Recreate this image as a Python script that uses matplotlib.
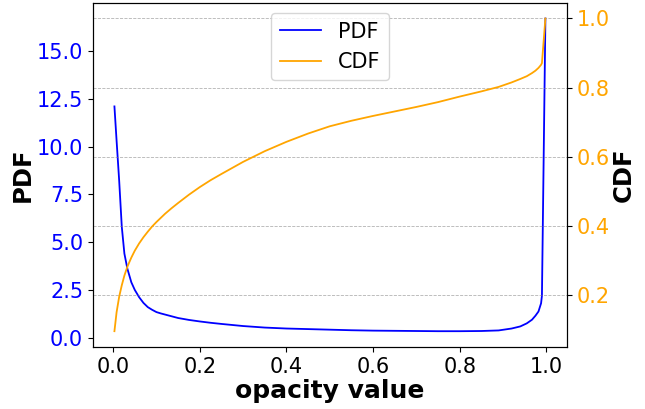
import matplotlib
matplotlib.use("Agg")
import matplotlib.pyplot as plt

x_vals = [0.003, 0.008, 0.014, 0.020, 0.026, 0.033, 0.042, 0.05, 0.06, 0.07,
          0.08, 0.09, 0.1, 0.11, 0.12, 0.135, 0.15, 0.175, 0.2, 0.225,
          0.25, 0.3, 0.35, 0.4, 0.45, 0.5, 0.55, 0.6, 0.65, 0.7,
          0.75, 0.8, 0.85, 0.89, 0.92, 0.94, 0.955, 0.967, 0.975, 0.982,
          0.988, 0.99, 0.998]
pdf_vals = [12.1, 10.3, 8.2, 5.8, 4.4, 3.6, 2.9, 2.5, 2.12, 1.82,
            1.6, 1.46, 1.34, 1.27, 1.21, 1.12, 1.03, 0.93, 0.85, 0.78,
            0.72, 0.61, 0.53, 0.48, 0.45, 0.42, 0.39, 0.37, 0.36, 0.35,
            0.34, 0.34, 0.35, 0.38, 0.48, 0.59, 0.75, 0.94, 1.15, 1.37,
            1.8, 2.2, 16.7]
cdf_vals = [0.095, 0.15, 0.195, 0.228, 0.256, 0.282, 0.308, 0.328, 0.349, 0.367,
            0.383, 0.398, 0.411, 0.423, 0.435, 0.451, 0.466, 0.49, 0.512, 0.532,
            0.55, 0.585, 0.616, 0.643, 0.667, 0.688, 0.704, 0.718, 0.731, 0.744,
            0.758, 0.774, 0.789, 0.802, 0.815, 0.825, 0.833, 0.842, 0.849, 0.857,
            0.866, 0.871, 1.0]
pdf_ticks = [0.0, 2.5, 5.0, 7.5, 10.0, 12.5, 15.0]
cdf_ticks = [0.2, 0.4, 0.6, 0.8, 1.0]
x_ticks = [0.0, 0.2, 0.4, 0.6, 0.8, 1.0]

fig = plt.figure(figsize=(6.45, 4.09), dpi=100)
ax1 = fig.add_axes([0.144, 0.152, 0.735, 0.841])
ax2 = ax1.twinx()

l1, = ax1.plot(x_vals, pdf_vals, color='blue', lw=1.3, label='PDF')
l2, = ax2.plot(x_vals, cdf_vals, color='orange', lw=1.3, label='CDF')

ax1.set_xlabel('opacity value', fontsize=18, fontweight='bold', labelpad=2)
ax1.set_ylabel('PDF', fontsize=17.5, fontweight='bold', labelpad=1.5)
ax2.set_ylabel('CDF', fontsize=17.5, fontweight='bold', labelpad=1)

ax1.tick_params(axis='x', labelsize=15)
ax1.tick_params(axis='y', labelsize=15, labelcolor='blue')
ax2.tick_params(axis='y', labelsize=15, labelcolor='orange')

ax1.set_xticks(x_ticks)
ax1.set_yticks(pdf_ticks)
ax2.set_yticks(cdf_ticks)

ax2.grid(True, linestyle='--', color='gray', alpha=0.6, linewidth=0.6)

ax2.legend([l1, l2], ['PDF', 'CDF'], loc='upper center', fontsize=15)

fig.savefig('out.png', dpi=100)
